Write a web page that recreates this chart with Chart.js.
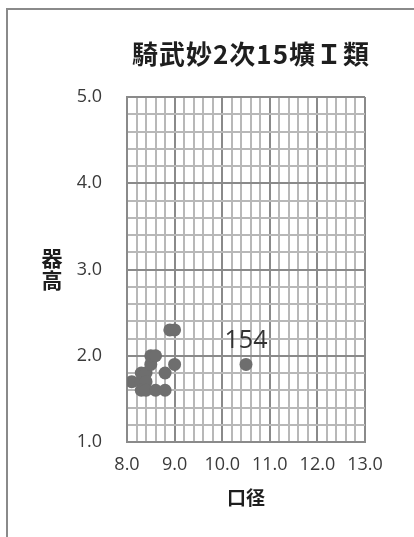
<!DOCTYPE html>
<html>
<head>
<meta charset="utf-8">
<script src="https://cdn.jsdelivr.net/npm/chart.js@4.4.1/dist/chart.umd.min.js"></script>
<style>
  html, body { margin: 0; padding: 0; background: #fff; overflow: hidden; }
  #wrap { position: relative; width: 414px; height: 537px; }
  #frame { position: absolute; left: 6px; top: 8px; width: 520px; height: 620px;
           border: 2px solid #8a8a8a; box-sizing: border-box; }
  canvas { position: absolute; left: 0; top: 0; }
</style>
</head>
<body>
<div id="wrap">
  <div id="frame"></div>
  <canvas id="c" width="414" height="537"></canvas>
</div>
<script>
// 口径 (x) and 器高 (y) of each vessel
const diameters = [8.1, 8.3, 8.3, 8.4, 8.4, 8.3, 8.4, 8.6, 8.8, 8.5, 8.5, 8.6, 8.8, 9.0, 8.9, 9.0, 10.5];
const heights    = [1.7, 1.7, 1.8, 1.8, 1.7, 1.6, 1.6, 1.6, 1.6, 1.9, 2.0, 2.0, 1.8, 1.9, 2.3, 2.3, 1.9];
const pointLabels = ['', '', '', '', '', '', '', '', '', '', '', '', '', '', '', '', '154'];

const chartTitle = '騎武妙2次15壙Ｉ類';
const xTitle = '口径';
const yTitle = ['器', '高'];

const xRange = [8, 13];
const yRange = [1, 5];
const gridStep = 0.2;

const isWhole = v => Math.abs(v - Math.round(v)) < 1e-6;
const gridColor = ctx => (ctx.tick && isWhole(ctx.tick.value)) ? '#8a8a8a' : '#b8b8b8';
const tickText = v => isWhole(v) ? Number(v).toFixed(1) : '';

const pts = diameters.map((d, i) => ({ x: d, y: heights[i] }));

const decorations = {
  id: 'decorations',
  afterDraw(chart) {
    const { ctx, chartArea } = chart;
    ctx.save();
    ctx.fillStyle = '#1e1e1e';
    ctx.textAlign = 'center';
    ctx.textBaseline = 'middle';
    ctx.font = 'bold 26px "Noto Sans CJK JP"';
    ctx.letterSpacing = '1px';
    ctx.fillText(chartTitle, 251, 54);
    ctx.letterSpacing = '0px';

    ctx.font = 'bold 21px "Noto Sans CJK JP"';
    const midY = (chartArea.top + chartArea.bottom) / 2;
    ctx.fillText(yTitle[0], 52, midY - 11);
    ctx.fillText(yTitle[1], 52, midY + 11);

    // value labels above their points
    const meta = chart.getDatasetMeta(0);
    ctx.font = '25px "Open Sans"';
    ctx.fillStyle = '#333';
    pointLabels.forEach((t, i) => {
      if (!t) return;
      const el = meta.data[i];
      ctx.fillText(t, el.x, el.y - 24);
    });
    ctx.restore();
  }
};

new Chart(document.getElementById('c'), {
  type: 'scatter',
  data: {
    datasets: [{
      data: pts,
      backgroundColor: '#6e6e6e',
      borderWidth: 0,
      pointRadius: 6.5,
      pointHoverRadius: 6.5
    }]
  },
  options: {
    responsive: false,
    animation: false,
    layout: { padding: { left: 0, right: 49, top: 97, bottom: 0 } },
    plugins: { legend: { display: false }, tooltip: { enabled: false } },
    scales: {
      x: {
        type: 'linear',
        min: xRange[0], max: xRange[1],
        afterFit: s => { s.height = 95; },
        ticks: {
          stepSize: gridStep, autoSkip: false, maxRotation: 0,
          callback: tickText,
          color: '#3a3a3a', font: { family: '"Open Sans"', size: 18 }, padding: 12
        },
        grid: { color: gridColor, lineWidth: 2, drawTicks: false },
        border: { color: '#8a8a8a', width: 2 },
        title: {
          display: true, text: xTitle, color: '#1e1e1e',
          font: { family: '"Noto Sans CJK JP"', size: 19, weight: 'bold' },
          padding: { top: 0, bottom: 28 }
        }
      },
      y: {
        type: 'linear',
        min: yRange[0], max: yRange[1],
        afterFit: s => { s.width = 127; },
        ticks: {
          stepSize: gridStep, autoSkip: false,
          callback: tickText,
          color: '#3a3a3a', font: { family: '"Open Sans"', size: 18 }, padding: 25
        },
        grid: { color: gridColor, lineWidth: 2, drawTicks: false },
        border: { color: '#8a8a8a', width: 2 }
      }
    }
  },
  plugins: [decorations]
});
</script>
</body>
</html>
